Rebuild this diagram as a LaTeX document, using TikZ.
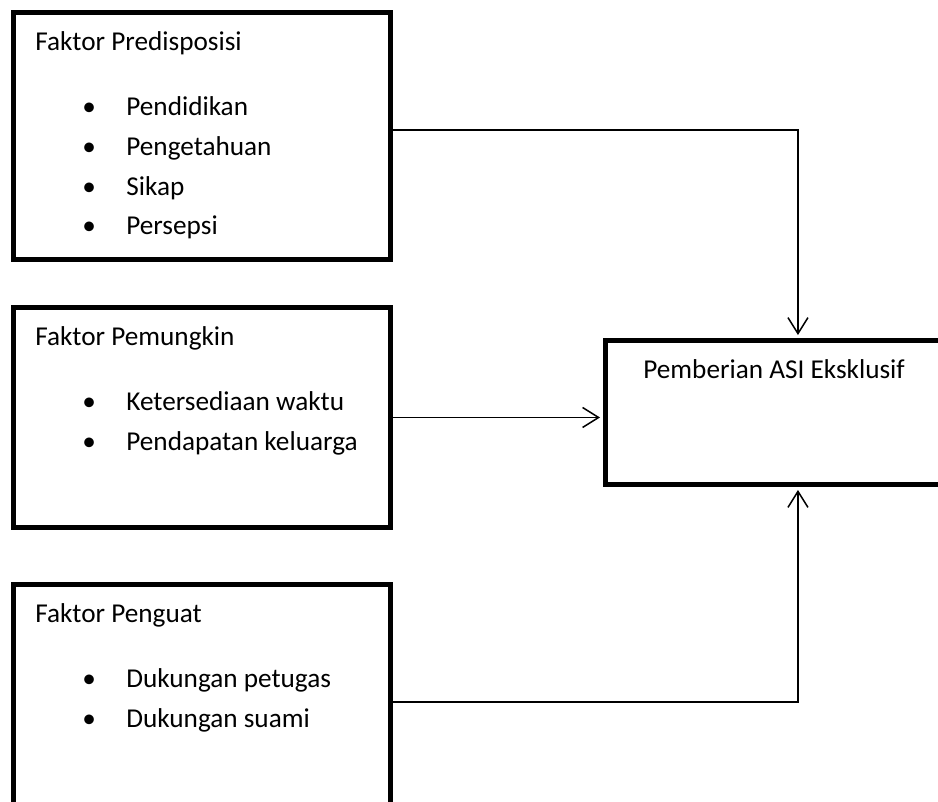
\documentclass[tikz,border=0pt]{standalone}
\usepackage{fontspec}
\setmainfont{Carlito}
\usetikzlibrary{arrows.meta, positioning}

\begin{document}
\begin{tikzpicture}[x=0.02cm, y=-0.02cm,
    faktor/.style={draw, line width=0.1cm, anchor=north west, inner sep=0pt, outer sep=0pt, minimum width=7.54cm},
    judul/.style={anchor=base west, inner sep=0pt, font=\fontsize{15.5}{18}\selectfont},
    butir/.style={judul},
    panah/.style={-{Straight Barb[length=0.32cm, width=0.4cm, line width=0.03cm]}, line width=0.03cm, shorten >=0.1cm}]

    \useasboundingbox (0,0) rectangle (938,802);
    \clip (0,0) rectangle (938,802);

    % kotak faktor
    \node[faktor, minimum height=4.95cm] (pred) at (13.5,12) {};
    \node[faktor, minimum height=4.4cm] (pem) at (13.5,307.5) {};
    \node[faktor, minimum height=4.7cm] (peng) at (13.5,584.5) {};
    \node[faktor, minimum width=7.72cm, minimum height=2.9cm] (asi) at (605,340) {};

    % isi kotak
    \node[judul] (tpred) at (35,50) {Faktor Predisposisi};
    \node[butir] (p1) at (82,115) {\makebox[0.88cm][l]{\textbullet}Pendidikan};
    \node[butir] (p2) at (82,155) {\makebox[0.88cm][l]{\textbullet}Pengetahuan};
    \node[butir] (p3) at (82,195) {\makebox[0.88cm][l]{\textbullet}Sikap};
    \node[butir] (p4) at (82,234) {\makebox[0.88cm][l]{\textbullet}Persepsi};

    \node[judul] (tpem) at (35,345) {Faktor Pemungkin};
    \node[butir] (m1) at (82,410) {\makebox[0.88cm][l]{\textbullet}Ketersediaan waktu};
    \node[butir] (m2) at (82,450) {\makebox[0.88cm][l]{\textbullet}Pendapatan keluarga};

    \node[judul] (tpeng) at (35,622) {Faktor Penguat};
    \node[butir] (g1) at (82,687) {\makebox[0.88cm][l]{\textbullet}Dukungan petugas};
    \node[butir] (g2) at (82,727) {\makebox[0.88cm][l]{\textbullet}Dukungan suami};

    \node[judul] (tasi) at (643,378) {Pemberian ASI Eksklusif};

    % panah
    \draw[panah] (pred.east |- 0,130) -| (asi.north);
    \draw[panah] (pem.east) -- (pem.east -| asi.west);
    \draw[panah] (peng.east) -| (asi.south);
\end{tikzpicture}
\end{document}
